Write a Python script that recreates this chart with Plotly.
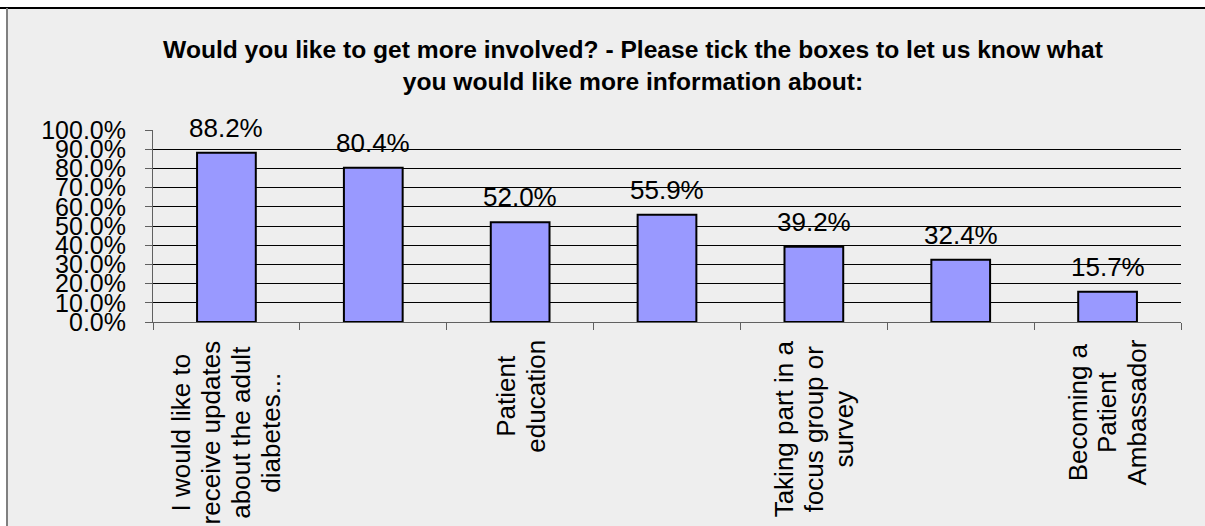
import plotly.graph_objects as go

# Survey responses: share of respondents per option
labels = [
    ["I would like to", "receive updates", "about the adult", "diabetes..."],
    None,
    ["Patient", "education"],
    None,
    ["Taking part in a", "focus group or", "survey"],
    None,
    ["Becoming a", "Patient", "Ambassador"],
]
values = [88.2, 80.4, 52.0, 55.9, 39.2, 32.4, 15.7]
value_text = ["88.2%", "80.4%", "52.0%", "55.9%", "39.2%", "32.4%", "15.7%"]
y_ticks = [0, 0.1, 0.2, 0.3, 0.4, 0.5, 0.6, 0.7, 0.8, 0.9, 1.0]

title_lines = ["Would you like to get more involved? - Please tick the boxes to let us know what",
               "you would like more information about:"]

W, H = 1205, 526
ML, MR, MT, MB = 153, 24, 130, 204
PW, PH = W - ML - MR, H - MT - MB

FONT = "Liberation Sans, Arial, sans-serif"
BG = "#EEEEEE"

xs = list(range(len(values)))
fracs = [v / 100 for v in values]

fig = go.Figure()
fig.add_trace(go.Bar(
    x=xs, y=fracs, width=0.4,
    marker=dict(color="#9999FF", line=dict(color="#000000", width=2)),
    hoverinfo="skip",
))

# value labels above each bar
for x, f, t in zip(xs, fracs, value_text):
    fig.add_annotation(x=x, y=f, text=t, showarrow=False, yanchor="bottom",
                       yshift=8, font=dict(family=FONT, size=26, color="#000"))

# rotated category labels below the axis; glyphs at 26px on a tighter 23px line pitch
for x, lab in zip(xs, labels):
    if lab:
        txt = "<br>".join('<span style="font-size:26px">%s</span>' % s for s in lab)
        fig.add_annotation(x=x, xref="x", y=-16 / PH, yref="paper", text=txt,
                           showarrow=False, textangle=-90, yanchor="top",
                           xanchor="center", align="center",
                           font=dict(family=FONT, size=23, color="#000"))


def px_x(p):
    return (p - ML) / PW


def px_y(p):
    return (H - MB - p) / PH


# chart frame: grey panel with a dark top edge and grey left edge
fig.add_shape(type="rect", xref="paper", yref="paper", layer="below",
              x0=px_x(7), x1=px_x(W + 5), y0=px_y(H + 5), y1=px_y(8),
              fillcolor=BG, line=dict(width=0))
fig.add_shape(type="line", xref="paper", yref="paper",
              x0=px_x(0), x1=px_x(W + 5), y0=px_y(8), y1=px_y(8),
              line=dict(color="#000000", width=2))
fig.add_shape(type="line", xref="paper", yref="paper",
              x0=px_x(7), x1=px_x(7), y0=px_y(8), y1=px_y(H + 5),
              line=dict(color="#808080", width=2))

fig.update_layout(
    width=W, height=H,
    margin=dict(l=ML, r=MR, t=MT, b=MB, pad=0),
    paper_bgcolor="#FFFFFF", plot_bgcolor=BG,
    showlegend=False, bargap=0.6,
    title=dict(text="<br>".join(title_lines), x=633 / W, xanchor="center", xref="container",
               y=1 - 58 / H, yanchor="top", yref="container",
               font=dict(family=FONT, size=24.6, color="#000", weight="bold")),
    xaxis=dict(range=[-0.5, len(values) - 0.5], tickmode="array",
               tickvals=[i - 0.5 for i in range(len(values) + 1)],
               showticklabels=False, ticks="outside", ticklen=7, tickcolor="#606060",
               tickwidth=1, showline=True, linecolor="#606060", linewidth=1,
               showgrid=False, zeroline=False, fixedrange=True),
    yaxis=dict(range=[0, 1], tickmode="array", tickvals=y_ticks, tickformat=".1%",
               ticks="outside", ticklen=7, tickcolor="#606060", tickwidth=1,
               ticklabelstandoff=14,
               showline=True, linecolor="#606060", linewidth=1,
               showgrid=True, gridcolor="#000000", gridwidth=1, zeroline=False,
               tickfont=dict(family=FONT, size=25, color="#000"), fixedrange=True),
)

fig.write_html("out.html", config={"displayModeBar": False})
